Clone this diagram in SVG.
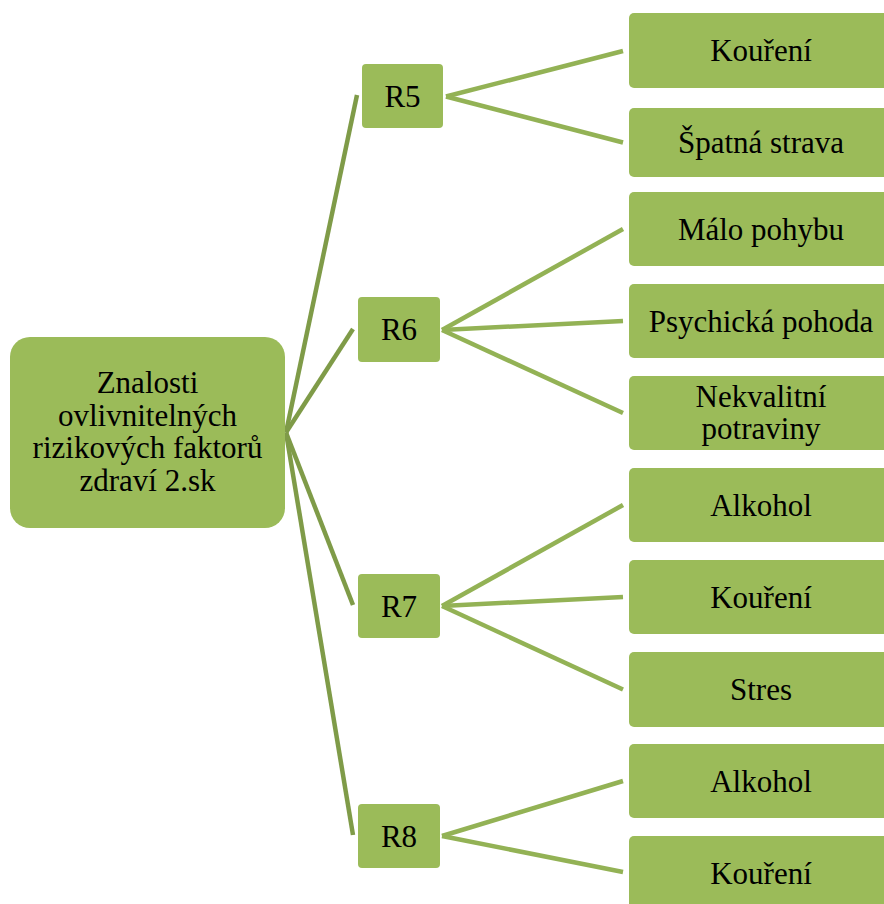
<svg xmlns="http://www.w3.org/2000/svg" width="884" height="904" viewBox="0 0 884 904">
<style>
.box{fill:#9BBB59;}
.t{font-family:'Liberation Serif',serif;font-size:31px;fill:#000;text-anchor:middle;}
.rc{stroke:#7F9B48;stroke-width:4.5;fill:none;stroke-linecap:butt;}
.lc{stroke:#93B255;stroke-width:4.5;fill:none;stroke-linecap:butt;}
</style>
<rect width="884" height="904" fill="#fff"/>
<g id="connectors">
<line class="rc" x1="286" y1="432.5" x2="357" y2="95"/>
<line class="rc" x1="286" y1="432.5" x2="353" y2="329"/>
<line class="rc" x1="286" y1="432.5" x2="353" y2="605"/>
<line class="rc" x1="286" y1="432.5" x2="353" y2="835"/>
<line class="lc" x1="446" y1="96.5" x2="623" y2="51"/>
<line class="lc" x1="446" y1="96.5" x2="623" y2="142.5"/>
<line class="lc" x1="442" y1="330" x2="623" y2="229"/>
<line class="lc" x1="442" y1="330" x2="623" y2="321"/>
<line class="lc" x1="442" y1="330" x2="623" y2="413"/>
<line class="lc" x1="442" y1="606" x2="623" y2="505"/>
<line class="lc" x1="442" y1="606" x2="623" y2="597"/>
<line class="lc" x1="442" y1="606" x2="623" y2="689.5"/>
<line class="lc" x1="442" y1="836" x2="623" y2="781"/>
<line class="lc" x1="442" y1="836" x2="623" y2="872"/>
</g>
<g id="root">
<rect class="box" x="10" y="337" width="275" height="191" rx="20"/>
<text class="t" x="147.5" y="393">Znalosti</text>
<text class="t" x="147.5" y="425.5">ovlivnitelných</text>
<text class="t" x="147.5" y="458">rizikových faktorů</text>
<text class="t" x="147.5" y="490.5">zdraví 2.sk</text>
</g>
<g id="r5"><rect class="box" x="362" y="64" width="81" height="64" rx="4"/><text class="t" x="402.5" y="106.5">R5</text></g>
<g id="r6"><rect class="box" x="358" y="297" width="82" height="65" rx="4"/><text class="t" x="399" y="340">R6</text></g>
<g id="r7"><rect class="box" x="358" y="574" width="82" height="64" rx="4"/><text class="t" x="399" y="616.5">R7</text></g>
<g id="r8"><rect class="box" x="358" y="804" width="82" height="64" rx="4"/><text class="t" x="399" y="846.5">R8</text></g>
<g id="leaf-r5-1"><rect class="box" x="629" y="13" width="264" height="75" rx="5"/><text class="t" x="761" y="61">Kouření</text></g>
<g id="leaf-r5-2"><rect class="box" x="629" y="108" width="264" height="69" rx="5"/><text class="t" x="761" y="153">Špatná strava</text></g>
<g id="leaf-r6-1"><rect class="box" x="629" y="192" width="264" height="74" rx="5"/><text class="t" x="761" y="239.5">Málo pohybu</text></g>
<g id="leaf-r6-2"><rect class="box" x="629" y="284" width="264" height="74" rx="5"/><text class="t" x="761" y="331.5">Psychická pohoda</text></g>
<g id="leaf-r6-3"><rect class="box" x="629" y="376" width="264" height="74" rx="5"/><text class="t" x="761" y="406.5">Nekvalitní</text><text class="t" x="761" y="438.5">potraviny</text></g>
<g id="leaf-r7-1"><rect class="box" x="629" y="468" width="264" height="74" rx="5"/><text class="t" x="761" y="515.5">Alkohol</text></g>
<g id="leaf-r7-2"><rect class="box" x="629" y="560" width="264" height="74" rx="5"/><text class="t" x="761" y="607.5">Kouření</text></g>
<g id="leaf-r7-3"><rect class="box" x="629" y="652" width="264" height="75" rx="5"/><text class="t" x="761" y="700">Stres</text></g>
<g id="leaf-r8-1"><rect class="box" x="629" y="744" width="264" height="74" rx="5"/><text class="t" x="761" y="791.5">Alkohol</text></g>
<g id="leaf-r8-2"><rect class="box" x="629" y="836" width="264" height="74" rx="5"/><text class="t" x="761" y="883.5">Kouření</text></g>
</svg>
